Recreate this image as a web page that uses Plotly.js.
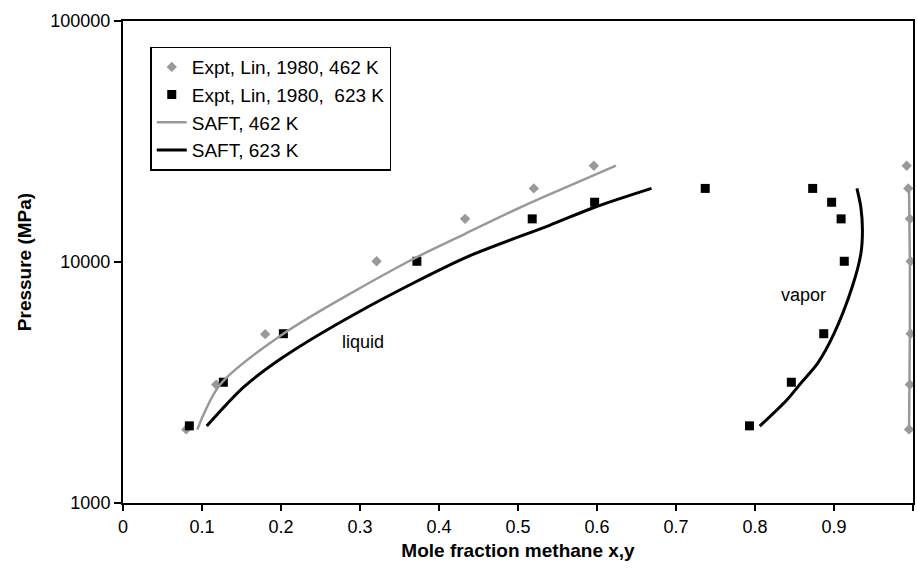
<!DOCTYPE html>
<html>
<head>
<meta charset="utf-8">
<script src="https://cdn.plot.ly/plotly-3.0.1.min.js"></script>
<style>html,body{margin:0;padding:0;background:#fff;}#chart{width:917px;height:574px;}</style>
</head>
<body>
<div id="chart"></div>
<script>
// Experimental data, Lin 1980, 462 K (liquid then vapor)
const expt462X = [0.080, 0.118, 0.180, 0.321, 0.433, 0.520, 0.596, 0.992, 0.994, 0.996, 0.997, 0.997, 0.996, 0.995];
const expt462P = [2020, 3100, 5020, 10070, 15100, 20200, 25100, 25100, 20200, 15100, 10070, 5040, 3100, 2020];
// Experimental data, Lin 1980, 623 K
const expt623X = [0.084, 0.127, 0.203, 0.372, 0.518, 0.597, 0.737, 0.873, 0.897, 0.909, 0.913, 0.887, 0.846, 0.793];
const expt623P = [2090, 3170, 5040, 10070, 15100, 17700, 20200, 20200, 17700, 15100, 10070, 5040, 3170, 2090];
// SAFT, 462 K (liquid branch, gap, vapor branch)
const saft462X = [0.094, 0.123, 0.203, 0.360, 0.433, 0.503, 0.540, 0.624, null, 0.995, 0.996, 0.996, 0.995];
const saft462P = [2020, 3100, 5040, 10000, 13090, 16870, 19100, 25100, null, 2020, 5000, 10000, 20200];
// SAFT, 623 K
const saft623X = [0.106, 0.153, 0.203, 0.300, 0.435, 0.540, 0.597, 0.669, null, 0.806, 0.840, 0.859, 0.879, 0.900, 0.923, 0.934, 0.936, 0.934, 0.929];
const saft623P = [2085, 3031, 4034, 6250, 10480, 14200, 16870, 20200, null, 2085, 2670, 3170, 3785, 5040, 7870, 10810, 13500, 16870, 20200];

const seriesNames = ["Expt, Lin, 1980, 462 K", "Expt, Lin, 1980,\u00a0 623 K", "SAFT, 462 K", "SAFT, 623 K"];
const yTickVals = [1000, 10000, 100000];
const yTickText = ["1000", "10000", "100000"];
const xTickVals = [0, 0.1, 0.2, 0.3, 0.4, 0.5, 0.6, 0.7, 0.8, 0.9, 1];
const xTickText = ["0", "0.1", "0.2", "0.3", "0.4", "0.5", "0.6", "0.7", "0.8", "0.9", "1"];
const labels = [
  {text: "liquid", x: 0.304, y: 4660},
  {text: "vapor", x: 0.861, y: 7330}
];

const FONT = "Arial, 'Liberation Sans', sans-serif";
const GRAY = "#999999";

const traces = [
  {x: expt462X, y: expt462P, name: seriesNames[0], type: "scatter", mode: "markers",
   marker: {symbol: "diamond", size: 8, color: GRAY}},
  {x: expt623X, y: expt623P, name: seriesNames[1], type: "scatter", mode: "markers",
   marker: {symbol: "square", size: 9, color: "#000000"}},
  {x: saft462X, y: saft462P, name: seriesNames[2], type: "scatter", mode: "lines",
   connectgaps: false, line: {color: GRAY, width: 2.5, shape: "spline", smoothing: 0.8}},
  {x: saft623X, y: saft623P, name: seriesNames[3], type: "scatter", mode: "lines",
   connectgaps: false, line: {color: "#000000", width: 3, shape: "spline", smoothing: 0.8}}
];

const layout = {
  width: 917, height: 574,
  margin: {l: 123, r: 4, t: 21, b: 71},
  paper_bgcolor: "#ffffff", plot_bgcolor: "#ffffff",
  font: {family: FONT, size: 18, color: "#000000"},
  showlegend: true,
  legend: {x: 0.0345, y: 0.947, xanchor: "left", yanchor: "top",
    bgcolor: "#ffffff", bordercolor: "#000000", borderwidth: 1.5,
    font: {family: FONT, size: 19, color: "#000000"}, tracegroupgap: 0},
  xaxis: {range: [0, 1], tickvals: xTickVals, ticktext: xTickText,
    showline: true, linecolor: "#000000", linewidth: 2, mirror: true,
    ticks: "outside", ticklen: 6, tickwidth: 2, tickcolor: "#000000",
    showgrid: false, zeroline: false,
    tickfont: {family: FONT, size: 18},
    title: {text: "<b>Mole fraction methane x,y</b>", font: {family: FONT, size: 19}, standoff: 8}},
  yaxis: {type: "log", range: [3, 5], tickvals: yTickVals, ticktext: yTickText,
    showline: true, linecolor: "#000000", linewidth: 2, mirror: true,
    ticks: "outside", ticklen: 7, tickwidth: 2, tickcolor: "#000000",
    showgrid: false, zeroline: false,
    tickfont: {family: FONT, size: 18},
    title: {text: "<b>Pressure (MPa)</b>", font: {family: FONT, size: 19}, standoff: 14}},
  annotations: labels.map(l => ({text: l.text, x: l.x, y: Math.log10(l.y), xref: "x", yref: "y",
    showarrow: false, font: {family: FONT, size: 18, color: "#000000"}}))
};

Plotly.newPlot("chart", traces, layout, {displayModeBar: false, staticPlot: true});
</script>
</body>
</html>
